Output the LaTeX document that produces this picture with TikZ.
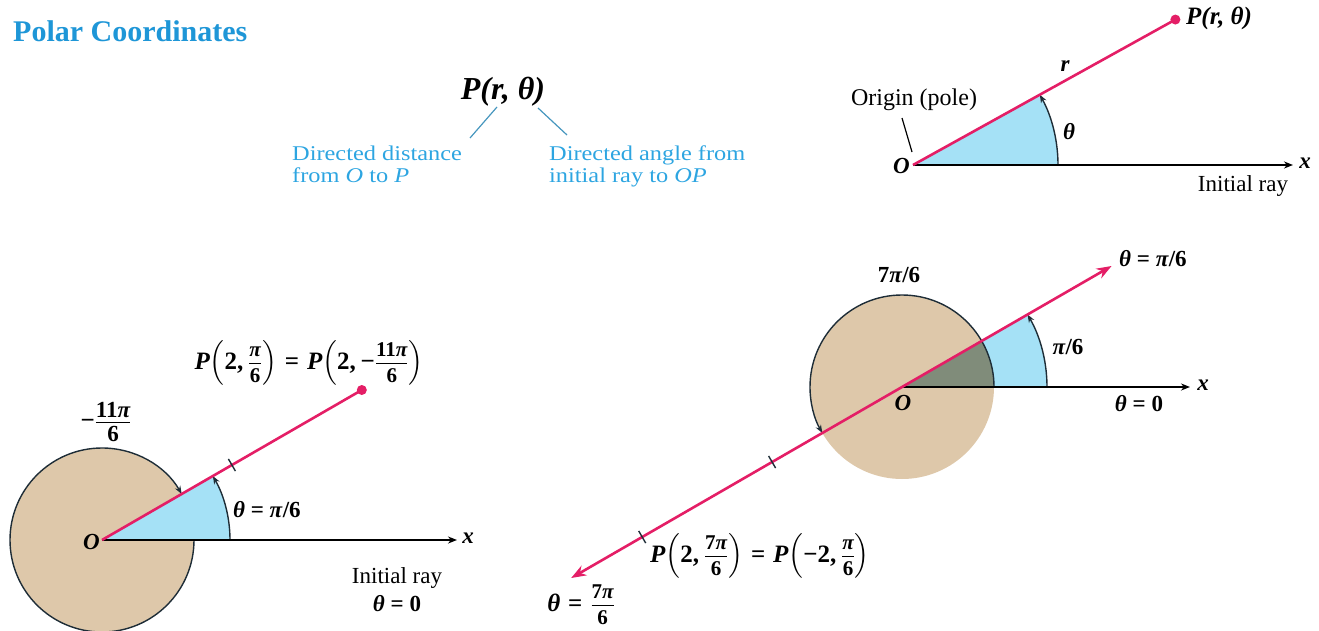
\documentclass[tikz,border=0pt]{standalone}
\usepackage{amsmath}
\usepackage{fontspec}
\setmainfont{Liberation Serif}
\newfontfamily\widefont[FakeStretch=1.16]{Liberation Serif}
\usetikzlibrary{arrows.meta,calc}
\definecolor{ttlblue}{RGB}{30,150,215}
\definecolor{txtblue}{RGB}{45,165,225}
\definecolor{leadblue}{RGB}{70,150,190}
\definecolor{raypink}{RGB}{228,30,102}
\definecolor{tanfill}{RGB}{222,200,170}
\definecolor{skyfill}{RGB}{165,225,246}
\definecolor{darkfill}{RGB}{128,140,122}
\definecolor{arcdark}{RGB}{30,45,55}
\newcommand{\sfr}[2]{\genfrac{}{}{0.9pt}{1}{\hbox{\fontsize{21}{21}\selectfont\rule[-5pt]{0pt}{5pt}#1}}{\hbox{\fontsize{21}{21}\selectfont\rule{0pt}{18pt}#2}}}
\newcommand{\lfr}[2]{\genfrac{}{}{0.9pt}{1}{\hbox{\fontsize{23}{23}\selectfont\rule[-4pt]{0pt}{4pt}#1}}{\hbox{\fontsize{23}{23}\selectfont\rule{0pt}{18pt}#2}}}
\newcommand{\tbi}[1]{\text{\bfseries\itshape #1}}
\newcommand{\tbu}[1]{\text{\bfseries\upshape #1}}
\begin{document}
\begin{tikzpicture}[x=1pt,y=-1pt,
  raystyle/.style={draw=raypink, line width=2.6pt},
  axisstyle/.style={draw=black, line width=1.6pt, -{Stealth[length=9pt,width=7pt]}},
  arcarrow/.style={draw=arcdark, line width=1.4pt, -{Stealth[length=8pt,width=6pt]}},
  lbl/.style={inner sep=0pt, font=\fontsize{23}{28}\selectfont},
  blbl/.style={inner sep=0pt, font=\fontsize{23}{28}\selectfont\bfseries},
  bilbl/.style={inner sep=0pt, font=\fontsize{23}{28}\selectfont\bfseries\itshape},
  mlbl/.style={inner sep=0pt, font=\fontsize{25}{28}\selectfont\boldmath},
  bluetxt/.style={inner sep=0pt, align=left, text=txtblue, font=\fontsize{21}{22}\widefont},
  dotsty/.style={circle, fill=raypink, inner sep=0pt, minimum size=10pt},
  ticksty/.style={draw=arcdark, line width=1.4pt},
  leadsty/.style={draw=leadblue, line width=1.2pt}]
\useasboundingbox (0,0) rectangle (1319,631);

% title
\node[inner sep=0pt, anchor=base west, text=ttlblue, font=\fontsize{30}{32}\selectfont\bfseries] (title) at (13,42) {Polar Coordinates};

% top middle explanation
\node[inner sep=0pt, anchor=base, font=\fontsize{32}{34}\selectfont\bfseries\itshape] (prt) at (503,100) {P(r, θ)};
\node[bluetxt, anchor=north west] (dd) at (292,146) {Directed distance\\from \textit{O} to \textit{P}};
\node[bluetxt, anchor=north west] (da) at (549,146) {Directed angle from\\initial ray to \textit{OP}};
\coordinate (la) at (497,107); \coordinate (lb) at (470,138);
\coordinate (ra) at (538,108); \coordinate (rb) at (567,135);
\draw[leadsty] (la) -- (lb);
\draw[leadsty] (ra) -- (rb);

% top right diagram
\coordinate (O1) at (913,165);
\coordinate (X1) at (1293,165);
\coordinate (P1) at ($(O1)+(-29:300)$);
\fill[skyfill] (O1) -- ++(145,0) arc[start angle=0,end angle=-29,radius=145] -- cycle;
\draw[arcarrow] ($(O1)+(145,0)$) arc[start angle=0,end angle=-29,radius=145];
\draw[axisstyle] (O1) -- (X1);
\draw[raystyle] (O1) -- (P1);
\node[dotsty] (P1d) at (P1) {};
\node[bilbl, font=\fontsize{25}{28}\selectfont\bfseries\itshape, anchor=west] (P1l) at (1186,18) {P(r, θ)};
\node[bilbl] (rl) at (1065,66) {r};
\node[bilbl] (thl) at (1069,132) {θ};
\node[bilbl, anchor=east] (O1l) at (910,166) {O};
\node[bilbl] (x1l) at (1305,163) {x};
\node[lbl] (ir1) at (1243,186) {Initial ray};
\node[lbl, font=\fontsize{24}{28}\selectfont] (orig) at (914,100) {Origin (pole)};
\coordinate (oa) at (902,118); \coordinate (ob) at (912,152);
\draw[draw=black, line width=1.2pt] (oa) -- (ob);

% bottom left diagram
\coordinate (O2) at (102,540);
\coordinate (X2) at (457,540);
\coordinate (P2) at ($(O2)+(-30:300)$);
\coordinate (T2) at ($(O2)+(-30:150)$);
\fill[tanfill] (O2) circle[radius=92];
\fill[skyfill] (O2) -- ++(128,0) arc[start angle=0,end angle=-30,radius=128] -- cycle;
\draw[arcarrow] ($(O2)+(92,0)$) arc[start angle=0,end angle=330,radius=92];
\draw[arcarrow] ($(O2)+(128,0)$) arc[start angle=0,end angle=-30,radius=128];
\draw[axisstyle] (O2) -- (X2);
\draw[raystyle] (O2) -- (P2);
\draw[ticksty] ($(T2)+(60:7)$) -- ($(T2)+(240:7)$);
\node[dotsty] (P2d) at (P2) {};
\node[bilbl, anchor=east] (O2l) at (100,542) {O};
\node[bilbl] (x2l) at (468,538) {x};
\node[blbl, anchor=west] (th2) at (233,510) {\textit{θ} = \textit{π}/6};
\node[mlbl] (m11) at (106,422) {$\tbu{−}\lfr{\bfseries 11\itshape π}{\bfseries 6}$};
\node[mlbl] (eq2) at (309,363) {$\tbi{P}{\left(\tbu{2,}\,\sfr{\bfseries\itshape π}{\bfseries 6}\right)}\mathrel{\tbu{=}}\tbi{P}{\left(\tbu{2,}\,\tbu{−}\sfr{\bfseries 11\itshape π}{\bfseries 6}\right)}$};
\node[lbl, align=center] (ir2) at (397,590) {Initial ray\\\textbf{\textit{θ} = 0}};

% bottom right diagram
\coordinate (O3) at (902,387);
\coordinate (X3) at (1190,387);
\coordinate (A3) at ($(O3)+(-30:242)$);
\coordinate (B3) at ($(O3)+(150:382)$);
\coordinate (T3a) at ($(O3)+(150:150)$);
\coordinate (T3b) at ($(O3)+(150:300)$);
\fill[tanfill] (O3) circle[radius=92];
\fill[skyfill] (O3) -- ++(145,0) arc[start angle=0,end angle=-30,radius=145] -- cycle;
\fill[darkfill] (O3) -- ++(92,0) arc[start angle=0,end angle=-30,radius=92] -- cycle;
\draw[arcarrow] ($(O3)+(145,0)$) arc[start angle=0,end angle=-30,radius=145];
\draw[arcarrow] ($(O3)+(92,0)$) arc[start angle=0,end angle=-210,radius=92];
\draw[axisstyle] (O3) -- (X3);
\draw[raystyle, {Stealth[length=15pt,width=11pt]}-{Stealth[length=15pt,width=11pt]}] (B3) -- (A3);
\draw[ticksty] ($(T3a)+(60:7)$) -- ($(T3a)+(240:7)$);
\draw[ticksty] ($(T3b)+(60:7)$) -- ($(T3b)+(240:7)$);
\node[bilbl] (O3l) at (903,403) {O};
\node[bilbl] (x3l) at (1203,385) {x};
\node[blbl] (th3) at (1139,404) {\textit{θ} = 0};
\node[blbl] (pi6) at (1068,347) {\textit{π}/6};
\node[blbl, anchor=west] (thpi) at (1119,259) {\textit{θ} = \textit{π}/6};
\node[blbl] (s7) at (899,275) {7\textit{π}/6};
\node[mlbl] (eq3) at (760,556) {$\tbi{P}{\left(\tbu{2,}\,\sfr{\bfseries 7\itshape π}{\bfseries 6}\right)}\mathrel{\tbu{=}}\tbi{P}{\left(\tbu{−2,}\,\sfr{\bfseries\itshape π}{\bfseries 6}\right)}$};
\node[mlbl] (th7) at (581,605) {$\tbi{θ}\mathrel{\tbu{=}}\sfr{\bfseries 7\itshape π}{\bfseries 6}$};
\end{tikzpicture}
\end{document}
